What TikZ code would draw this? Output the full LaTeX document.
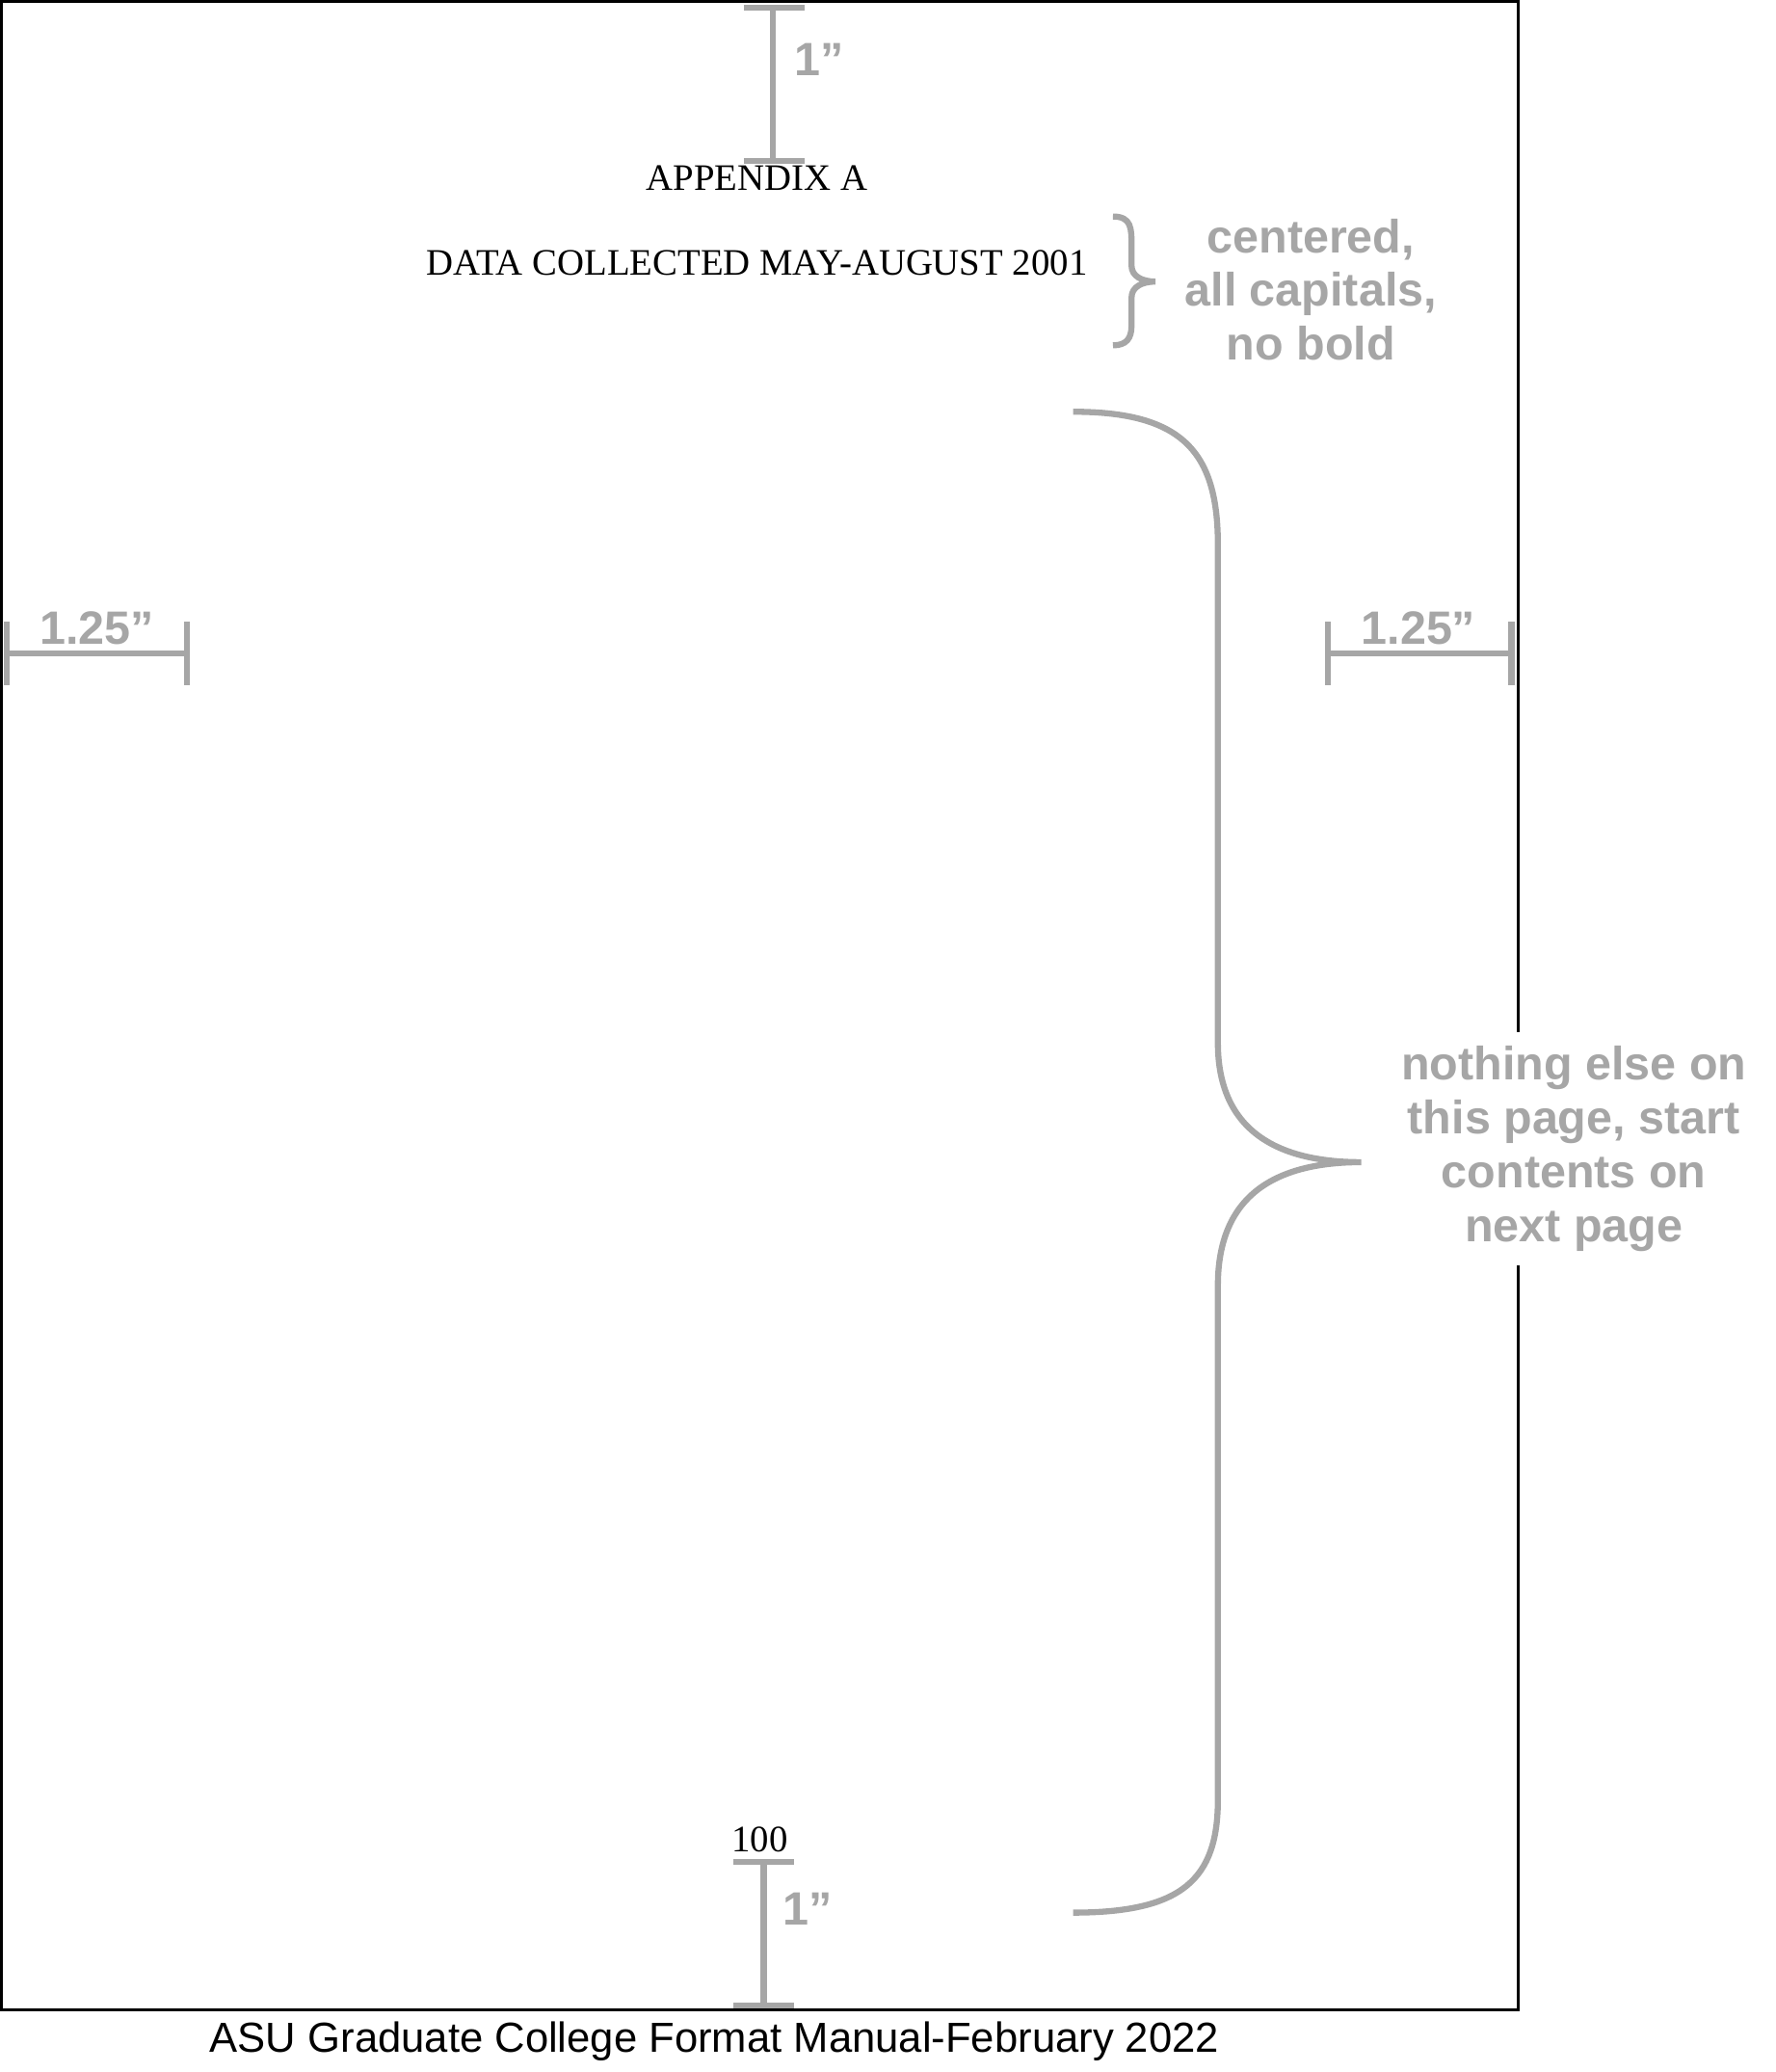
\documentclass[tikz,border=0pt]{standalone}
\usepackage{fontspec}
\setmainfont{Liberation Serif}
\setsansfont{Liberation Sans}
\usetikzlibrary{positioning}
\definecolor{markgray}{RGB}{166,166,166}
\tikzset{
  dimline/.style={draw=markgray, line width=1.3pt},
  dimlabel/.style={text=markgray, font=\sffamily\bfseries\fontsize{10}{11.5}\selectfont, align=center, inner sep=1pt},
  pagetext/.style={font=\fontsize{8}{9.5}\selectfont, inner sep=0pt}
}
\begin{document}
\begin{tikzpicture}[x=0.01cm, y=-0.01cm]
  \useasboundingbox (0,0) rectangle (1337,1560);
  % page frame
  \draw[line width=0.6pt] (1,1) rectangle (1143,1513);
  % top margin
  \coordinate (t1) at (582,6);
  \coordinate (t2) at (582,121);
  \draw[dimline] (t1) -- (t2);
  \draw[dimline] (560,6) -- (606,6);
  \draw[dimline] (560,121) -- (606,121);
  \node[dimlabel] (ttop) at (617,45) {1”};
  % headings
  \node[pagetext] (app) at (570,134) {APPENDIX A};
  \node[pagetext] (title) at (570,198) {DATA COLLECTED MAY-AUGUST 2001};
  \draw[dimline] (838,163) .. controls (852,163) and (852,172) .. (852,185) -- (852,200)
    .. controls (852,208) and (860,212) .. (870,212)
    .. controls (860,212) and (852,216) .. (852,224) -- (852,245)
    .. controls (852,255) and (848,260) .. (838,260);
  \node[dimlabel] (cap) at (987,218) {centered,\\all capitals,\\no bold};
  % side margins
  \draw[dimline] (5,492) -- (141,492);
  \draw[dimline] (5,468) -- (5,516);
  \draw[dimline] (141,468) -- (141,516);
  \node[dimlabel] (lleft) at (73,473) {1.25”};
  \draw[dimline] (1000,492) -- (1138,492);
  \draw[dimline] (1000,468) -- (1000,516);
  \draw[dimline] (1138,468) -- (1138,516);
  \node[dimlabel] (lright) at (1068,473) {1.25”};
  % big brace
  \draw[dimline] (808,310) .. controls (890,310) and (917,340) .. (917,410) -- (917,785)
    .. controls (917,850) and (960,875) .. (1025,875)
    .. controls (960,875) and (917,900) .. (917,968) -- (917,1355)
    .. controls (917,1415) and (890,1440) .. (808,1440);
  \node[dimlabel, fill=white, inner sep=3pt] (note) at (1185,865) {nothing else on\\this page, start\\contents on\\next page};
  % bottom margin
  \node[pagetext] (pnum) at (572,1385) {100};
  \draw[dimline] (575,1402) -- (575,1510);
  \draw[dimline] (552,1402) -- (598,1402);
  \draw[dimline] (552,1510) -- (598,1510);
  \node[dimlabel] (tbot) at (608,1437) {1”};
  % footer
  \node[font=\sffamily\fontsize{9}{11}\selectfont, inner sep=0pt] (foot) at (538,1537) {ASU Graduate College Format Manual-February 2022};
\end{tikzpicture}
\end{document}
